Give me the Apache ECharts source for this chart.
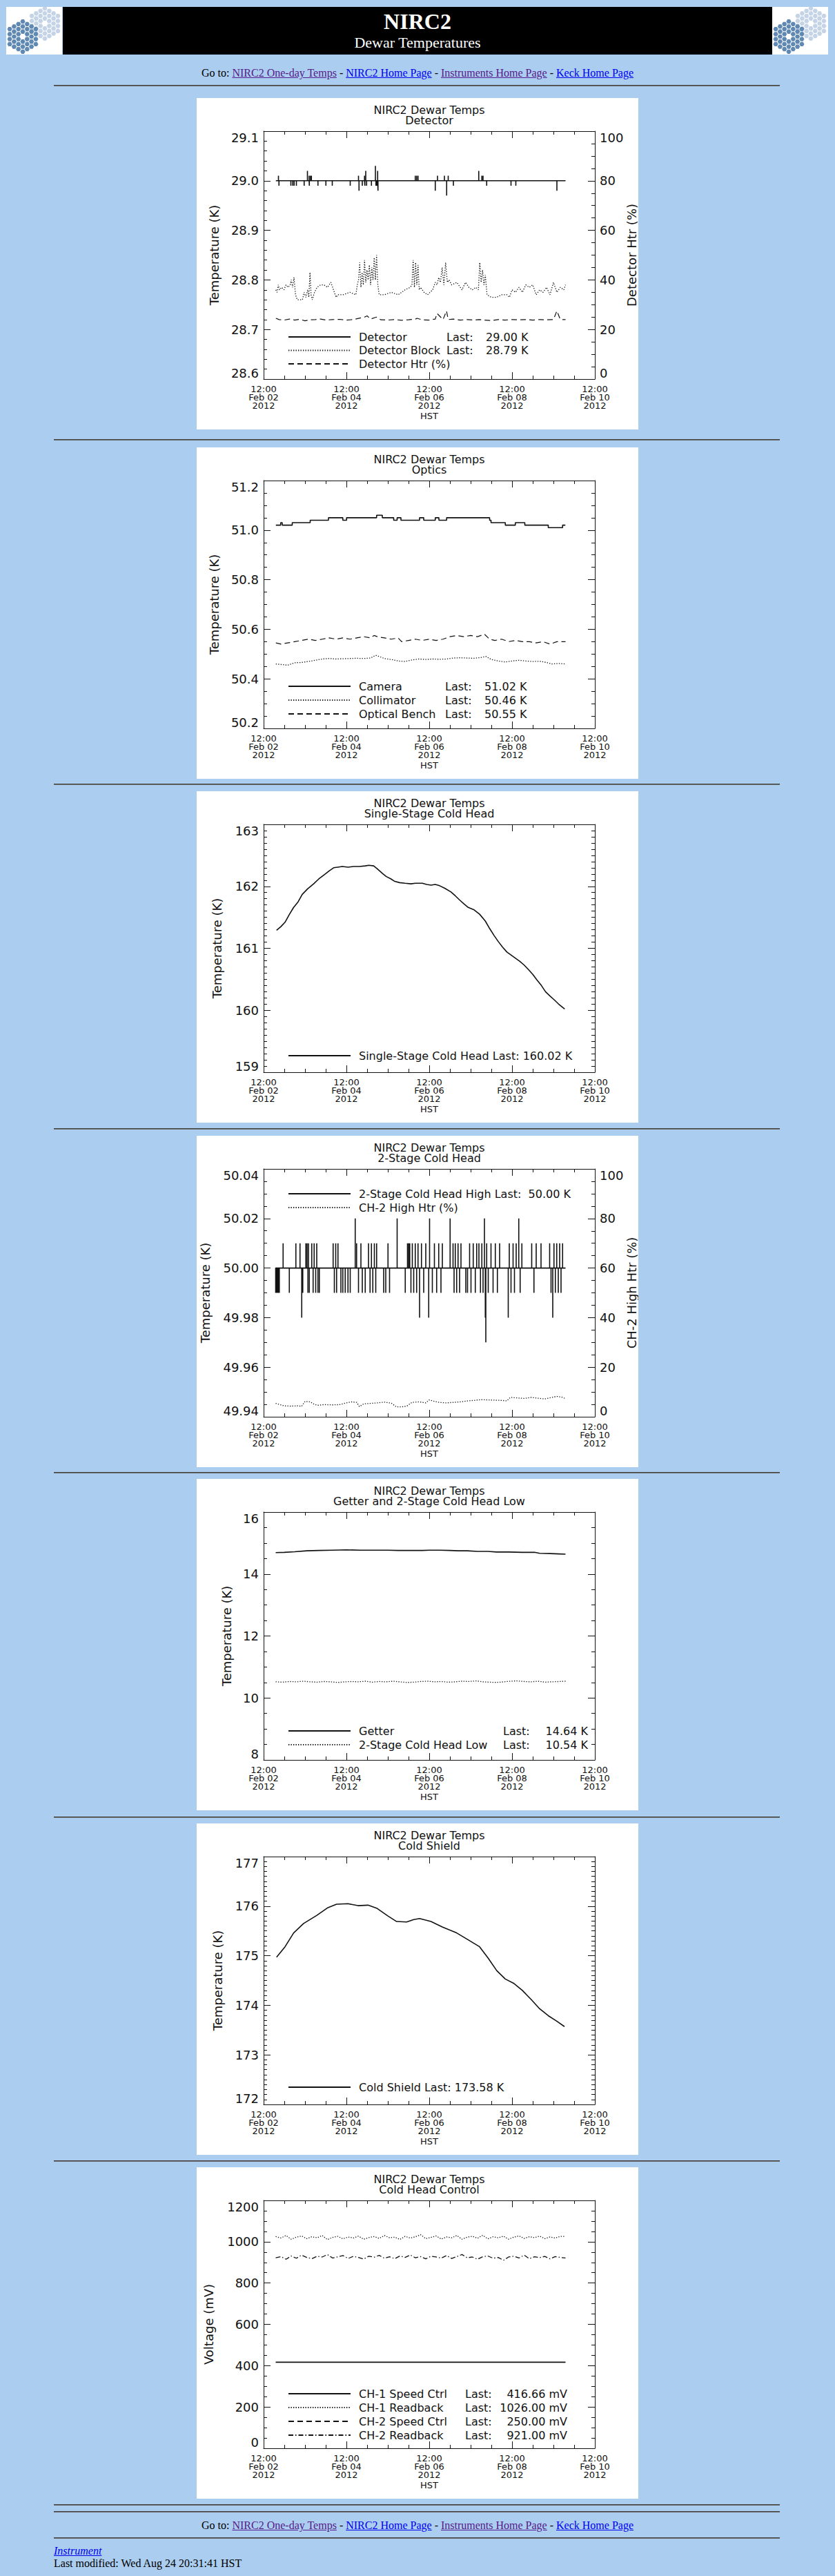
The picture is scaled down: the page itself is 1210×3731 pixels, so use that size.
<!DOCTYPE html>
<html>
<head>
<meta charset="utf-8">
<title>NIRC2 Dewar Temperatures</title>
<script src="https://cdn.jsdelivr.net/npm/echarts@6/dist/echarts.min.js"></script>
<style>
  html, body { margin: 0; padding: 0; background: #abcdef; }
  body { font-family: "Liberation Serif", "Times New Roman", serif; font-size: 16px; color: #000; }
  #page { position: relative; width: 1210px; height: 3731px; overflow: hidden; }
  .hr { position: absolute; left: 78px; width: 1052px; height: 0; border-top: 1px solid #444; border-bottom: 1px solid #6a6a6a; }
  .panel { position: absolute; left: 285px; width: 640px; height: 480px; background: #fff; }
  .goto { position: absolute; left: 0; width: 1210px; text-align: center; line-height: 18px; white-space: nowrap; }
  .foot { position: absolute; left: 78px; line-height: 18px; white-space: nowrap; }
  a.seen { color: #551a8b; }
  a.link { color: #0000ee; }
  .logo { position: absolute; top: 10px; width: 81px; height: 69px; background: #fff; }
  #banner { position: absolute; left: 91px; top: 10px; width: 1028px; height: 69px; background: #000; color: #fff; }
  #banner div { position: absolute; left: 0; width: 100%; text-align: center; }
</style>
</head>
<body>
<div id="page">
  <svg class="logo" id="logoL" style="left:9px" width="81" height="69"></svg>
  <div id="banner">
    <div style="top:5px; font-size:32px; line-height:32px; font-weight:bold;">NIRC2</div>
    <div style="top:41px; font-size:22px; line-height:22px;">Dewar Temperatures</div>
  </div>
  <svg class="logo" id="logoR" style="left:1119px" width="81" height="69"></svg>

  <div class="goto" style="top:97px">Go to: <a class="seen" href="#">NIRC2 One-day Temps</a> - <a class="link" href="#">NIRC2 Home Page</a> - <a class="seen" href="#">Instruments Home Page</a> - <a class="link" href="#">Keck Home Page</a></div>

  <div class="goto" style="top:3649px">Go to: <a class="seen" href="#">NIRC2 One-day Temps</a> - <a class="link" href="#">NIRC2 Home Page</a> - <a class="seen" href="#">Instruments Home Page</a> - <a class="link" href="#">Keck Home Page</a></div>
  <div class="foot" style="top:3686px"><a class="link" href="#"><i>Instrument</i></a></div>
  <div class="foot" style="top:3704px">Last modified: Wed Aug 24 20:31:41 HST</div>
</div>

<script>
// hours since 2012-02-02 12:00 HST

// ---- Detector
const detectorSpikes = [[8.6,29.01],[8.9,28.99],[15.8,28.99],[16.9,28.99],[17.7,28.99],[19.0,28.99],[23.5,28.99],[25.4,29.02],[26.4,29.01],[26.5,28.99],[27.2,29.01],[27.7,29.01],[31.5,28.99],[36.1,28.99],[39.8,28.99],[50.2,28.99],[55.0,29.01],[55.3,28.98],[57.2,28.99],[58.5,29.01],[58.7,28.99],[59.2,29.02],[59.7,28.99],[62.5,28.99],[64.8,29.03],[65.1,28.99],[65.6,28.99],[66.1,29.02],[66.3,28.98],[87.9,29.01],[88.7,29.01],[89.5,29.01],[99.5,28.98],[100.8,29.01],[104.8,29.01],[106.1,28.97],[107.0,29.01],[110.0,28.99],[124.7,29.02],[126.5,29.01],[127.2,29.01],[129.3,28.99],[143.4,28.99],[146.2,28.99],[170.0,28.98]];
const detectorBlock = [[7.1,28.78],[7.8,28.775],[8.5,28.79],[9.2,28.78],[10.5,28.785],[11.8,28.78],[13.0,28.79],[14.2,28.785],[15.4,28.79],[16.0,28.80],[16.8,28.785],[17.6,28.805],[18.5,28.77],[19.5,28.76],[21.0,28.76],[22.5,28.76],[23.5,28.775],[24.5,28.765],[25.5,28.78],[26.2,28.765],[26.9,28.815],[27.5,28.77],[28.2,28.76],[29.5,28.775],[31.0,28.785],[33.0,28.79],[35.0,28.79],[37.0,28.785],[39.0,28.795],[40.5,28.78],[42.0,28.765],[43.0,28.77],[46.0,28.77],[50.0,28.775],[53.5,28.77],[54.3,28.79],[55.0,28.80],[55.7,28.835],[56.4,28.785],[57.1,28.815],[57.8,28.79],[58.5,28.84],[59.2,28.795],[59.9,28.82],[60.6,28.80],[61.3,28.83],[62.0,28.79],[62.7,28.825],[63.4,28.80],[64.1,28.845],[64.8,28.80],[65.5,28.85],[66.2,28.79],[67.0,28.77],[70.0,28.77],[74.0,28.775],[78.0,28.77],[82.0,28.78],[85.0,28.785],[86.0,28.79],[86.7,28.84],[87.4,28.785],[88.1,28.835],[88.8,28.79],[89.5,28.83],[90.2,28.78],[91.0,28.785],[93.0,28.775],[95.0,28.77],[98.0,28.78],[99.5,28.795],[100.5,28.79],[101.5,28.805],[102.5,28.795],[103.5,28.825],[104.5,28.79],[105.5,28.835],[106.5,28.795],[107.5,28.80],[109.0,28.79],[112.0,28.795],[115.0,28.78],[117.0,28.795],[119.0,28.785],[121.0,28.78],[123.0,28.785],[124.5,28.78],[125.3,28.835],[126.1,28.795],[126.9,28.82],[127.7,28.79],[128.5,28.81],[129.5,28.77],[132.0,28.765],[135.0,28.765],[138.0,28.77],[141.0,28.77],[142.5,28.765],[144.0,28.78],[146.0,28.775],[148.0,28.785],[150.0,28.775],[152.0,28.79],[154.0,28.785],[156.0,28.79],[158.0,28.77],[160.0,28.78],[162.0,28.775],[164.0,28.785],[166.0,28.77],[168.0,28.795],[170.0,28.775],[172.0,28.785],[174.0,28.78],[175.0,28.79]];
const detectorHtr = [[7.1,24.5],[9,24],[12,23.8],[15,24.2],[18,23.8],[21,24.1],[24,23.5],[27,23.9],[30,24],[33,24.2],[36,23.8],[40,24],[44,24.1],[48,23.8],[52,24],[55,24.5],[57,24.8],[58.5,25],[60,25.5],[62,24.2],[64.5,24.8],[65.5,25],[68,23.9],[72,23.8],[76,24],[80,23.7],[84,23.9],[88,24.2],[89,24.5],[92,23.9],[96,23.8],[99.5,24.2],[100.5,26.5],[104,24.0],[106,27.5],[107,24.0],[110,24.2],[114,23.8],[118,24.0],[122,23.8],[125,24.0],[128,23.8],[132,23.6],[136,24.0],[140,23.8],[144,24.0],[148,23.9],[152,24.0],[156,23.8],[160,24.0],[164,23.9],[168,24.0],[170,27.5],[172,24.0],[175,24.0]];

// ---- Optics
const camera = [[7.1,51.02],[9.9,51.03],[10.8,51.02],[16.6,51.03],[27.0,51.04],[37.6,51.05],[45.9,51.04],[48.1,51.05],[65.5,51.06],[68.8,51.05],[75.4,51.04],[77.4,51.05],[79.6,51.04],[90.4,51.05],[92.8,51.04],[99.5,51.05],[101.6,51.04],[106.1,51.05],[131.0,51.04],[131.8,51.03],[140.1,51.02],[145.9,51.03],[151.4,51.02],[165.0,51.01],[173.3,51.02],[174.9,51.02]];
const collimator = [[7.1,50.46],[10,50.458],[14,50.455],[18,50.465],[22,50.466],[26,50.47],[30,50.475],[34,50.48],[38,50.482],[42,50.48],[46,50.481],[50,50.482],[54,50.483],[58,50.482],[62,50.484],[65,50.495],[67,50.49],[70,50.482],[74,50.478],[78,50.472],[82,50.47],[86,50.476],[90,50.48],[94,50.478],[98,50.48],[102,50.479],[106,50.48],[110,50.484],[114,50.485],[118,50.484],[122,50.483],[126,50.486],[129,50.49],[132,50.478],[136,50.472],[140,50.468],[144,50.472],[148,50.475],[152,50.472],[156,50.47],[160,50.471],[164,50.466],[167,50.46],[171,50.462],[175,50.46]];
const opticalBench = [[7.1,50.545],[10,50.54],[14,50.545],[18,50.55],[22,50.555],[26,50.56],[30,50.555],[34,50.56],[38,50.565],[42,50.56],[46,50.565],[50,50.56],[54,50.565],[58,50.57],[62,50.565],[64,50.575],[66,50.57],[70,50.565],[74,50.56],[78,50.565],[80,50.55],[84,50.555],[88,50.56],[92,50.555],[96,50.56],[100,50.555],[104,50.56],[108,50.57],[112,50.575],[116,50.57],[120,50.575],[124,50.57],[128,50.58],[131,50.56],[134,50.555],[138,50.56],[142,50.55],[146,50.555],[150,50.55],[154,50.55],[158,50.545],[162,50.55],[166,50.54],[170,50.55],[175,50.55]];

// ---- Single-stage cold head
const singleStage = [[7.5,161.29],[10,161.35],[12.4,161.42],[15,161.55],[17.4,161.66],[20,161.75],[22.4,161.87],[25.5,161.96],[29.0,162.04],[32,162.12],[35.7,162.20],[38,162.25],[40.6,162.30],[43,162.31],[45.6,162.32],[49,162.31],[52.2,162.32],[55.5,162.32],[58.9,162.33],[61,162.34],[63.8,162.33],[66,162.28],[68.8,162.21],[71,162.16],[73.8,162.12],[76,162.08],[78.8,162.06],[82,162.05],[85.4,162.04],[88,162.05],[92.0,162.05],[94.5,162.03],[97.0,162.02],[99.5,162.03],[102.0,162.01],[105,161.97],[108.6,161.91],[111,161.85],[113.6,161.78],[116,161.72],[118.6,161.66],[122,161.62],[125.2,161.55],[128.5,161.44],[131,161.32],[133.5,161.21],[136,161.11],[138.5,161.02],[141,160.94],[143.5,160.89],[146,160.84],[148.5,160.79],[151,160.73],[153.4,160.66],[156,160.58],[158.4,160.49],[161,160.40],[163.4,160.30],[166,160.23],[168.4,160.17],[171,160.10],[174.5,160.02]];

// ---- 2-stage cold head
const twoStageSpikes = [[7.0,49.99],[7.3,49.99],[7.6,49.99],[8.0,49.99],[8.3,49.99],[8.6,49.99],[9.1,49.99],[11.3,50.01],[14.9,49.99],[18.7,50.01],[21.1,50.01],[22.1,49.98],[22.7,49.99],[24.5,50.01],[25.2,50.01],[25.7,49.99],[26.0,50.01],[26.5,49.99],[27.9,50.01],[28.7,49.99],[29.3,50.01],[30.2,49.99],[30.8,50.01],[31.5,49.99],[32.3,49.99],[40.3,50.01],[41.0,49.99],[41.8,50.01],[42.3,49.99],[43.1,50.01],[44.8,49.99],[45.9,49.99],[47.3,49.99],[48.9,49.99],[50.2,49.99],[53.1,50.02],[53.9,50.01],[55.0,49.99],[56.4,50.01],[57.2,49.99],[58.9,49.99],[60.8,50.01],[61.7,49.99],[62.5,50.01],[63.3,49.99],[64.2,50.01],[65.0,49.99],[65.5,50.01],[69.6,49.99],[70.8,49.99],[72.1,50.01],[73.0,49.99],[77.4,50.02],[82.1,49.99],[83.4,50.01],[84.1,50.01],[84.7,50.01],[85.4,49.99],[86.2,50.01],[87.0,49.99],[87.9,50.01],[88.7,49.99],[89.5,50.01],[90.4,49.98],[91.5,50.01],[92.8,49.99],[94.0,50.01],[95.7,49.98],[96.2,50.02],[97.8,49.99],[99.0,50.01],[100.3,49.99],[101.5,50.01],[102.8,49.99],[103.6,50.01],[108.1,50.02],[109.8,50.01],[110.4,49.99],[111.1,50.01],[111.9,49.99],[112.7,50.01],[113.6,49.99],[114.4,50.01],[117.2,49.99],[118.2,49.99],[119.4,50.01],[120.2,49.99],[121.5,50.01],[122.7,49.99],[123.5,50.01],[124.8,50.01],[125.7,49.99],[126.5,50.01],[127.2,49.99],[128.0,50.02],[128.5,49.98],[128.8,49.97],[129.3,50.01],[130.2,49.99],[131.8,50.01],[133.0,49.99],[134.3,50.01],[135.5,49.99],[136.8,50.01],[141.8,49.98],[142.4,50.01],[143.4,49.99],[144.6,50.01],[145.4,49.99],[146.4,50.01],[147.9,50.02],[148.7,49.99],[149.7,50.01],[155.4,50.01],[156.7,49.99],[158.0,50.01],[160.8,50.01],[165.8,50.01],[166.6,49.99],[167.6,49.98],[168.3,50.01],[169.1,49.99],[169.9,50.01],[170.8,49.99],[171.6,50.01],[172.4,49.99],[173.3,50.01]];
const ch2HighHtr = [[7.0,5.4],[9,5.0],[12,4.4],[16,4.3],[20,4.4],[22,4.2],[24,6.2],[27,6.0],[29,5.2],[31,4.6],[35,4.9],[40,4.8],[44,4.9],[48,5.6],[51,6.0],[54,5.8],[55.5,4.1],[58,5.2],[62,5.4],[66,5.6],[70,5.9],[74,5.5],[77,4.0],[80,4.0],[83,4.3],[86,5.8],[90,6.0],[94,5.6],[96,6.8],[99,6.2],[102,5.8],[106,5.6],[110,5.8],[114,6.0],[118,6.4],[122,6.6],[126,6.9],[130,6.8],[134,6.7],[138,6.6],[141,6.4],[143,7.8],[147,7.6],[151,7.4],[155,7.8],[159,7.5],[163,7.2],[167,7.8],[170,8.2],[173,7.9],[175,7.3]];

// ---- Getter / 2-stage low
const getter = [[7,14.69],[12,14.70],[18,14.72],[25,14.75],[32,14.76],[40,14.77],[48,14.78],[56,14.77],[64,14.77],[72,14.77],[78,14.76],[85,14.76],[92,14.76],[96,14.77],[102,14.77],[108,14.76],[113,14.75],[118,14.75],[124,14.73],[130,14.73],[135,14.71],[142,14.71],[150,14.70],[157,14.70],[160,14.67],[166,14.66],[171,14.65],[175,14.64]];
const twoStageLow = [[7,10.52],[11,10.51],[15,10.53],[19,10.52],[23,10.54],[27,10.52],[31,10.51],[35,10.53],[39,10.52],[43,10.50],[47,10.52],[51,10.53],[55,10.52],[59,10.54],[63,10.51],[67,10.53],[71,10.52],[75,10.54],[79,10.52],[83,10.50],[87,10.51],[91,10.53],[95,10.54],[99,10.52],[103,10.53],[107,10.51],[111,10.52],[115,10.54],[119,10.53],[123,10.55],[127,10.52],[131,10.51],[135,10.50],[139,10.52],[143,10.54],[147,10.55],[151,10.53],[155,10.52],[159,10.54],[163,10.51],[167,10.52],[171,10.53],[175,10.54]];

// ---- Cold shield
const coldShield = [[7.5,174.97],[12.4,175.18],[17.4,175.46],[23.2,175.65],[30.7,175.81],[37.3,175.97],[42.3,176.04],[48.9,176.05],[54.7,176.01],[60.5,176.02],[65.5,175.96],[72.1,175.80],[77.1,175.69],[82.9,175.68],[87.0,175.73],[90.4,175.75],[97.0,175.69],[103.6,175.58],[111.9,175.46],[118.6,175.32],[125.2,175.18],[130.2,174.95],[135.1,174.70],[140.1,174.53],[145.1,174.44],[150.0,174.30],[155.0,174.12],[160.0,173.93],[165.0,173.79],[169.9,173.68],[174.4,173.57]];

// ---- Cold head control (mV)
const ctrlHours = [7,10,13,16,19,22,25,28,31,34,37,40,43,46,49,52,55,58,61,64,67,70,73,76,79,82,85,88,91,94,97,100,103,106,109,112,115,118,121,124,127,130,133,136,139,142,145,148,151,154,157,160,163,166,169,172,175];
const ch1Readback = [1025,1018,1030,1012,1022,1028,1015,1024,1019,1030,1010,1021,1026,1014,1023,1018,1027,1012,1020,1025,1016,1030,1019,1022,1011,1026,1018,1024,1034,1015,1021,1028,1013,1023,1019,1030,1012,1022,1026,1017,1031,1014,1024,1019,1027,1012,1022,1028,1016,1024,1020,1027,1015,1023,1018,1026,1026];
const ch2Readback = [922,928,915,931,920,935,924,918,930,926,938,921,927,933,919,929,924,916,930,925,934,920,927,918,931,924,936,922,928,917,930,926,921,933,919,928,938,922,926,915,927,931,920,924,910,926,930,921,935,918,927,923,929,917,928,924,921];
const ch1SpeedCtrl = [[7,416.66],[175,416.66]];
const ch2SpeedCtrl = [];

const INK = '#111';
const FONT = 'DejaVu Sans';
const BASE = Date.UTC(2012, 1, 2, 12);
const MON = ['Jan','Feb','Mar','Apr','May','Jun','Jul','Aug','Sep','Oct','Nov','Dec'];
const DASH = { solid: 'solid', dotted: [1.3, 2.2], dashed: [8, 5], dashdot: [7, 3, 1.5, 3] };
const WIDTH = { solid: 1.6, dotted: 1.3, dashed: 1.2, dashdot: 1.3 };
const PANEL_TOPS = [142, 648, 1146, 1645, 2142, 2641, 3139];
const HR_TOPS = [123, 636, 1135, 1634, 2132, 2631, 3129, 3627, 3637, 3675];

function spikes(base, list, h0, h1) {
  const pts = [[h0, base]];
  list.slice().sort((a, b) => a[0] - b[0]).forEach(([h, v]) => {
    pts.push([h, base], [h, v], [h, base]);
  });
  pts.push([h1, base]);
  return pts;
}
const zip = (xs, ys) => xs.map((x, i) => [x, ys[i]]);

const charts = [
  { sub: 'Detector', y: [28.6, 29.1, 0.1, 5, 1], yName: 'Temperature (K)', yGap: 63,
    right: { min: 0, max: 100, step: 20, minor: 4, name: 'Detector Htr (%)' },
    legendTop: 333, legendGap: 3.5, cols: [127, 57, 65, 'left'],
    series: [
      { name: 'Detector', data: spikes(29.0, detectorSpikes, 7.1, 175), style: 'solid', last: '29.00 K' },
      { name: 'Detector Block', data: detectorBlock, style: 'dotted', last: '28.79 K' },
      { name: 'Detector Htr (%)', data: detectorHtr, style: 'dashed', axis: 1 }
    ] },
  { sub: 'Optics', y: [50.2, 51.2, 0.2, 4, 1], yName: 'Temperature (K)', yGap: 63,
    legendTop: 333, legendGap: 4, cols: [125, 57, 65, 'left'],
    series: [
      { name: 'Camera', data: camera, style: 'solid', step: 'end', last: '51.02 K' },
      { name: 'Collimator', data: collimator, style: 'dotted', last: '50.46 K' },
      { name: 'Optical Bench', data: opticalBench, style: 'dashed', last: '50.55 K' }
    ] },
  { sub: 'Single-Stage Cold Head', y: [159, 163, 1, 10, 0], yName: 'Temperature (K)', yGap: 59,
    legendTop: 370, legendGap: 4,
    series: [
      { name: 'Single-Stage Cold Head', data: singleStage, style: 'solid', last: '160.02 K' }
    ] },
  { sub: '2-Stage Cold Head', y: [49.94, 50.04, 0.02, 4, 2], yName: 'Temperature (K)', yGap: 76,
    right: { min: 0, max: 100, step: 20, minor: 4, name: 'CH-2 High Htr (%)' },
    legendTop: 71, legendGap: 4,
    series: [
      { name: '2-Stage Cold Head High', data: spikes(50.0, twoStageSpikes, 7.0, 175), style: 'solid', last: ' 50.00 K' },
      { name: 'CH-2 High Htr (%)', data: ch2HighHtr, style: 'dotted', axis: 1 }
    ] },
  { sub: 'Getter and 2-Stage Cold Head Low', y: [8, 16, 2, 4, 0], yName: 'Temperature (K)', yGap: 45,
    legendTop: 352, legendGap: 4, cols: [209, 56, 67, 'right'],
    series: [
      { name: 'Getter', data: getter, style: 'solid', last: '14.64 K' },
      { name: '2-Stage Cold Head Low', data: twoStageLow, style: 'dotted', last: '10.54 K' }
    ] },
  { sub: 'Cold Shield', y: [172, 177, 1, 10, 0], yName: 'Temperature (K)', yGap: 58,
    legendTop: 369, legendGap: 4,
    series: [
      { name: 'Cold Shield', data: coldShield, style: 'solid', last: '173.58 K' }
    ] },
  { sub: 'Cold Head Control', y: [0, 1200, 200, 4, 0], yName: 'Voltage (mV)', yGap: 71,
    legendTop: 315, legendGap: 4, cols: [154, 48, 100, 'right'],
    series: [
      { name: 'CH-1 Speed Ctrl', data: ch1SpeedCtrl, style: 'solid', last: '416.66 mV' },
      { name: 'CH-1 Readback', data: zip(ctrlHours, ch1Readback), style: 'dotted', last: '1026.00 mV' },
      { name: 'CH-2 Speed Ctrl', data: ch2SpeedCtrl, style: 'dashed', last: '250.00 mV' },
      { name: 'CH-2 Readback', data: zip(ctrlHours, ch2Readback), style: 'dashdot', last: '921.00 mV' }
    ] }
];

function dateLabel(h) {
  const d = new Date(BASE + h * 3600e3);
  const p = n => String(n).padStart(2, '0');
  return p(d.getUTCHours()) + ':' + p(d.getUTCMinutes()) + '\n' +
    MON[d.getUTCMonth()] + ' ' + p(d.getUTCDate()) + '\n' + d.getUTCFullYear();
}

function frame(extra) {
  return Object.assign({
    type: 'value',
    axisLine: { show: true, onZero: false, lineStyle: { color: INK, width: 1 } },
    axisTick: { show: true, inside: true, length: 10, lineStyle: { color: INK, width: 1 } },
    splitLine: { show: false },
    minorSplitLine: { show: false }
  }, extra);
}
const tickFont = { fontSize: 18, fontFamily: FONT, color: INK };

function buildOption(cfg) {
  const [yMin, yMax, yStep, yMinor, yDigits] = cfg.y;
  const xAxes = [
    frame({ min: 0, max: 192, interval: 48, position: 'bottom',
      minorTick: { show: true, splitNumber: 4, length: 5, lineStyle: { color: INK } },
      name: 'HST', nameLocation: 'middle', nameGap: 47, nameMoveOverlap: false,
      nameTextStyle: { fontSize: 13, fontFamily: FONT, color: INK },
      axisLabel: { formatter: dateLabel, fontSize: 13, lineHeight: 12, margin: 8, fontFamily: FONT, color: INK } }),
    frame({ min: 0, max: 192, interval: 48, position: 'top',
      minorTick: { show: true, splitNumber: 4, length: 5, lineStyle: { color: INK } },
      axisLabel: { show: false } })
  ];
  const yLeft = frame({ min: yMin, max: yMax, interval: yStep, position: 'left',
    minorTick: { show: true, splitNumber: yMinor, length: 5, lineStyle: { color: INK } },
    name: cfg.yName, nameLocation: 'middle', nameRotate: 90, nameGap: cfg.yGap, nameMoveOverlap: false,
    nameTextStyle: { fontSize: 18, fontFamily: FONT, color: INK },
    axisLabel: Object.assign({ margin: 7, showMinLabel: true, showMaxLabel: true,
      verticalAlignMinLabel: 'bottom', verticalAlignMaxLabel: 'top',
      formatter: v => v.toFixed(yDigits) }, tickFont) });
  let yRight;
  if (cfg.right) {
    const r = cfg.right;
    yRight = frame({ min: r.min, max: r.max, interval: r.step, position: 'right',
      minorTick: { show: true, splitNumber: r.minor, length: 5, lineStyle: { color: INK } },
      name: r.name, nameLocation: 'middle', nameRotate: 90, nameGap: 44, nameMoveOverlap: false,
      nameTextStyle: { fontSize: 18, fontFamily: FONT, color: INK },
      axisLabel: Object.assign({ margin: 7, showMinLabel: true, showMaxLabel: true,
        verticalAlignMinLabel: 'bottom', verticalAlignMaxLabel: 'top' }, tickFont) });
  } else {
    yRight = frame({ min: yMin, max: yMax, interval: yStep, position: 'right',
      minorTick: { show: true, splitNumber: yMinor, length: 5, lineStyle: { color: INK } },
      axisLabel: { show: false } });
  }

  const byName = {};
  cfg.series.forEach(s => { byName[s.name] = s; });
  const cols = cfg.cols;
  const rich = {
    n: { fontSize: 16, fontFamily: FONT, color: INK, lineHeight: 14, width: cols ? cols[0] : undefined },
    t: { fontSize: 16, fontFamily: FONT, color: INK, lineHeight: 14 },
    l: { fontSize: 16, fontFamily: FONT, color: INK, lineHeight: 14, width: cols ? cols[1] : undefined },
    v: { fontSize: 16, fontFamily: FONT, color: INK, lineHeight: 14, width: cols ? cols[2] : undefined, align: cols ? cols[3] : 'left' }
  };

  return {
    animation: false,
    backgroundColor: '#fff',
    grid: { left: 97, top: 48, width: 480, height: 359, outerBoundsMode: 'none', containLabel: false },
    graphic: [
      { type: 'text', x: 337, y: 17.5, silent: true,
        style: { text: 'NIRC2 Dewar Temps', fill: INK, fontSize: 16, fontFamily: FONT,
          align: 'center', verticalAlign: 'middle', textAlign: 'center', textVerticalAlign: 'middle' } },
      { type: 'text', x: 337, y: 32, silent: true,
        style: { text: cfg.sub, fill: INK, fontSize: 16, fontFamily: FONT,
          align: 'center', verticalAlign: 'middle', textAlign: 'center', textVerticalAlign: 'middle' } }
    ],
    legend: {
      orient: 'vertical', left: 127, top: cfg.legendTop,
      itemWidth: 90, itemHeight: 14, itemGap: cfg.legendGap, selectedMode: false,
      itemStyle: { opacity: 0, borderWidth: 0 },
      data: cfg.series.map(s => s.name),
      textStyle: { fontSize: 16, fontFamily: FONT, color: INK, lineHeight: 14, padding: [0, 0, 0, 7], rich: rich },
      formatter: function (name) {
        const s = byName[name];
        if (!s.last) return '{t|' + name + '}';
        if (!cols) return '{t|' + name + ' Last: ' + s.last + '}';
        return '{n|' + name + '}{l|Last:}{v|' + s.last + '}';
      }
    },
    xAxis: xAxes,
    yAxis: [yLeft, yRight],
    series: cfg.series.map(s => ({
      name: s.name, type: 'line', xAxisIndex: 0, yAxisIndex: s.axis || 0,
      data: s.data, symbol: 'none', showSymbol: false, step: s.step || false,
      clip: true, silent: true,
      lineStyle: { color: INK, width: WIDTH[s.style], type: DASH[s.style] },
      itemStyle: { color: INK }
    }))
  };
}

const page = document.getElementById('page');
HR_TOPS.forEach(t => {
  const d = document.createElement('div');
  d.className = 'hr';
  d.style.top = t + 'px';
  page.appendChild(d);
});

charts.forEach((cfg, i) => {
  const panel = document.createElement('div');
  panel.className = 'panel';
  panel.style.top = PANEL_TOPS[i] + 'px';
  page.appendChild(panel);
  const chart = echarts.init(panel, null, { renderer: 'svg', width: 640, height: 480 });
  chart.setOption(buildOption(cfg));
});

// Keck mirror logos (two overlapping 36-segment mirrors)
function drawLogo(svg) {
  const ns = 'http://www.w3.org/2000/svg';
  const s = 4.2;
  [[56, 24, '#c4d4e6'], [24, 43, '#5f88b3']].forEach(([cx, cy, col]) => {
    for (let q = -3; q <= 3; q++) {
      for (let r = -3; r <= 3; r++) {
        const d = Math.max(Math.abs(q), Math.abs(r), Math.abs(q + r));
        if (d < 1 || d > 3) continue;
        const x = cx + s * 1.5 * q;
        const y = cy + s * Math.sqrt(3) * (r + q / 2);
        const pts = [];
        for (let k = 0; k < 6; k++) {
          const a = Math.PI / 3 * k;
          pts.push((x + s * 0.86 * Math.cos(a)).toFixed(1) + ',' + (y + s * 0.86 * Math.sin(a)).toFixed(1));
        }
        const poly = document.createElementNS(ns, 'polygon');
        poly.setAttribute('points', pts.join(' '));
        poly.setAttribute('fill', col);
        svg.appendChild(poly);
      }
    }
  });
}
drawLogo(document.getElementById('logoL'));
drawLogo(document.getElementById('logoR'));
</script>
</body>
</html>
